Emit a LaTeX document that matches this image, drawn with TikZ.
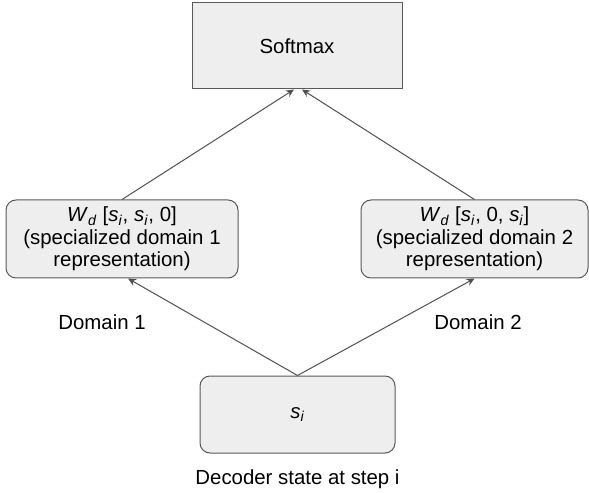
\documentclass[tikz,border=0pt]{standalone}
\usepackage{fontspec}
\setmainfont{Liberation Sans}
\usetikzlibrary{arrows.meta}

\newcommand{\ivar}[2]{\textit{#1}\textsubscript{\textit{#2}}}

\tikzset{every picture/.style={line width=0.75pt}}
\tikzset{
	boxfill/.style={draw={rgb, 255:red, 89; green, 89; blue, 89 }, fill={rgb, 255:red, 238; green, 238; blue, 238 }, align=center, inner sep=0pt},
	flat box/.style={boxfill, rectangle, minimum width=157.5pt, minimum height=64.5pt},
	round box/.style={boxfill, rectangle, rounded corners=7.5pt, minimum height=58.5pt},
	link/.style={draw={rgb, 255:red, 80; green, 80; blue, 80 }, -{Stealth[length=6pt,width=5.5pt]}}}

\begin{document}
\begin{tikzpicture}[x=0.75pt,y=0.75pt,yscale=-1,xscale=1,font=\fontsize{15.3}{17}\selectfont]
	%set diagram area to 589 x 491
	\path (0,0) rectangle (589,491);

	%Shape: Rectangle
	\node [flat box] (softmax) at (297,46) {Softmax};
	%Shape: Rounded Rectangle
	\node [round box, minimum width=174pt] (dom1) at (122,239) {\ivar{W}{d} [\ivar{s}{i}, \ivar{s}{i}, 0]\\(specialized domain 1\\representation)};
	%Shape: Rounded Rectangle
	\node [round box, minimum width=170.25pt] (dom2) at (474.5,239) {\ivar{W}{d} [\ivar{s}{i}, 0, \ivar{s}{i}]\\(specialized domain 2\\representation)};
	%Shape: Rounded Rectangle
	\node [round box, minimum width=146.25pt, minimum height=57.75pt] (state) at (297.5,414.5) {\ivar{s}{i}};

	% Text Node
	\node (lab1) at (102,322) {Domain 1};
	% Text Node
	\node (lab2) at (478,322) {Domain 2};
	% Text Node
	\node (labstate) at (297.5,479) {Decoder state at step i};

	%Straight Lines
	\draw [link] (state.north) -- ([xshift=4.5pt]dom1.south);
	\draw [link] (state.north) -- (dom2.south);
	%Straight Lines
	\draw [link] (dom1.north) -- ([xshift=-2.25pt]softmax.south);
	\draw [link] (dom2.north) -- ([xshift=3.75pt]softmax.south);

\end{tikzpicture}
\end{document}
